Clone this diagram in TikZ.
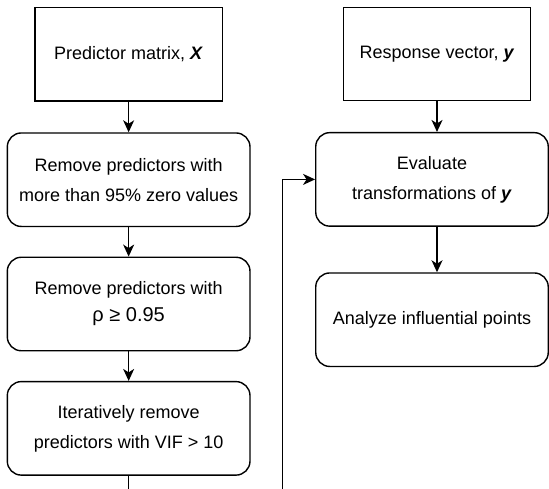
\documentclass[tikz,border=0pt]{standalone}
\usepackage{fontspec}
\setmainfont{Liberation Sans}
\usetikzlibrary{arrows.meta}
\begin{document}
\begin{tikzpicture}[x=1pt,y=-1pt,
  base/.style={draw, line width=1.4pt, inner sep=0pt, align=center,
    font=\fontsize{18}{30}\selectfont},
  sqbox/.style={base, minimum width=187.3pt, minimum height=93.5pt},
  rbox/.style={base, rounded corners=14pt, minimum width=242.7pt, minimum height=93.5pt},
  rboxr/.style={base, rounded corners=14pt, minimum width=232.5pt, minimum height=93.5pt},
  arr/.style={line width=1.4pt, -{Stealth[length=12pt,width=11pt,inset=3.5pt]}},
  ln/.style={line width=1.4pt}]
\useasboundingbox (0,0) rectangle (549,488);
\node[sqbox] (X) at (128.65,54.15) {Predictor matrix, \textbf{\textit{X}}};
\node[sqbox] (Y) at (437,54.0) {Response vector, \textbf{\textit{y}}};
\node[rbox] (R1) at (128.65,179.7) {Remove predictors with\\more than 95\% zero values};
\node[rbox] (R2) at (128.65,304) {Remove predictors with\\[-3pt]{\fontsize{20}{27}\selectfont ρ ≥ 0.95}};
\node[rbox] (R3) at (128.65,428.35) {Iteratively remove\\predictors with VIF > 10};
\node[rboxr] (E) at (432,179.4) {Evaluate\\transformations of \textbf{\textit{y}}};
\node[rboxr] (A) at (432,319.7) {Analyze influential points};
\coordinate (b1) at (128.65,490);
\coordinate (b2) at (282.7,490);
\draw[arr] (X) -- (R1);
\draw[arr] (R1) -- (R2);
\draw[arr] (R2) -- (R3);
\draw[ln] (R3.south) -- (b1);
\draw[arr] (b2) |- (E.west);
\draw[arr] (Y.south) -- (Y.south |- E.north);
\draw[arr] (Y.south |- E.south) -- (Y.south |- A.north);
\end{tikzpicture}
\end{document}
